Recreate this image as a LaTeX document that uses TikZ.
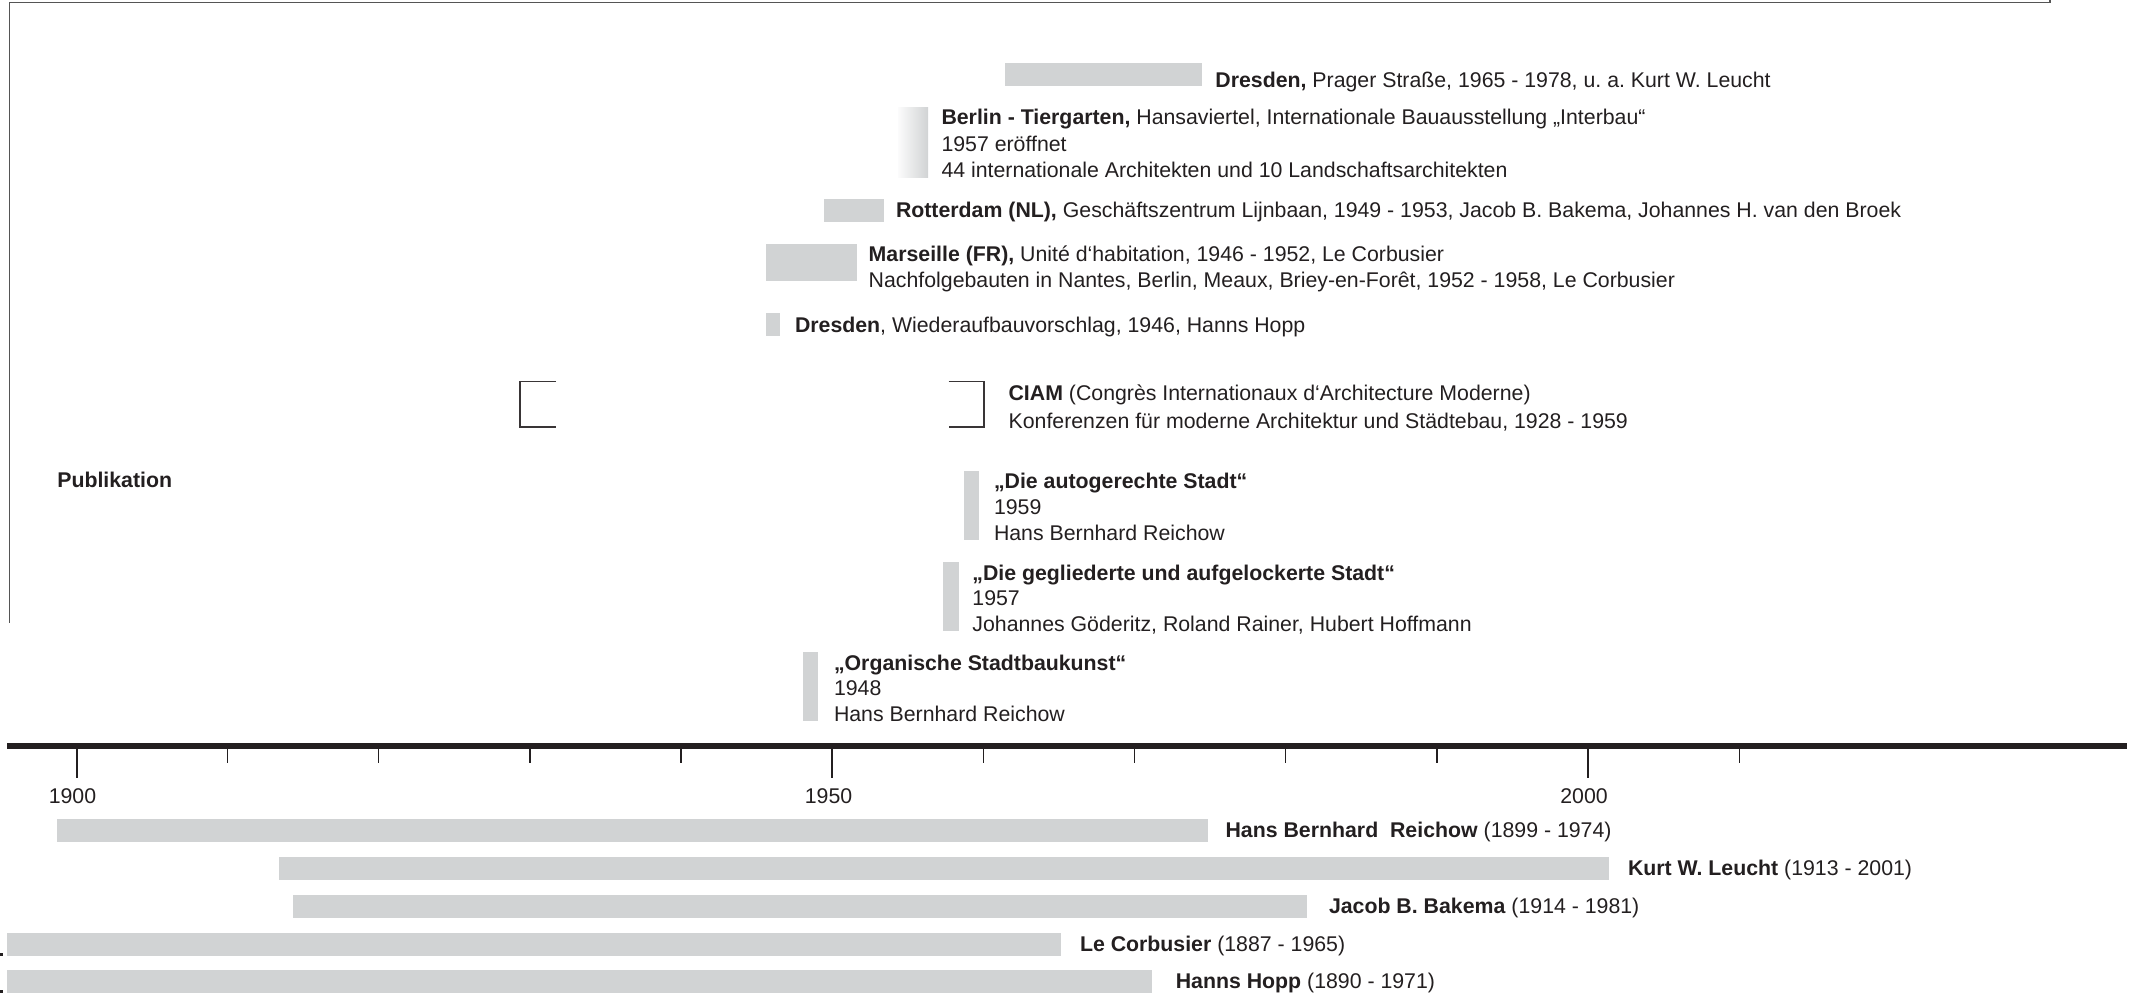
\documentclass[tikz,border=0pt]{standalone}
\usepackage{fontspec}
\setmainfont{Liberation Sans}
\definecolor{barc}{HTML}{D1D3D4}
\definecolor{txt}{HTML}{231F20}
\definecolor{framec}{HTML}{555555}
\frenchspacing
\begin{document}
\begin{tikzpicture}[x=0.5pt,y=-0.5pt,
  lbl/.style={anchor=base west, inner sep=0pt, outer sep=0pt, text=txt, font=\fontsize{10.65}{13}\selectfont},
  yrlbl/.style={anchor=base, inner sep=0pt, outer sep=0pt, text=txt, font=\fontsize{10.65}{13}\selectfont},
  bar/.style={fill=barc, draw=none},
  bracket/.style={draw=txt!90, line width=0.85pt},
  majortick/.style={draw=txt, line width=1pt},
  minortick/.style={draw=txt, line width=0.65pt}]
\useasboundingbox (0,0) rectangle (2140,997);

% frame
\draw[framec, line width=0.7pt] (9.3,622.5) -- (9.3,2.7) -- (2050,2.7) -- (2050,0);

% upper bars
\fill[bar] (1005,62.7) rectangle (1201.7,86);
\shade[left color=white!92!barc, right color=barc] (898,107) rectangle (928,177);
\fill[bar] (823.7,199.3) rectangle (883.7,221.7);
\fill[bar] (766.3,244) rectangle (857,280.7);
\fill[bar] (766.3,313.3) rectangle (780,335.7);
\fill[bar] (964,471) rectangle (979,540);
\fill[bar] (943,562) rectangle (959,630.7);
\fill[bar] (803,652) rectangle (818,720.7);

% CIAM brackets
\draw[bracket] (556,381.5) -- (520,381.5) -- (520,426.7) -- (556,426.7);
\draw[bracket] (948.5,381.5) -- (984,381.5) -- (984,426.7) -- (948.5,426.7);

% upper texts
\node[lbl] (dp) at (1215.4,87) {\textbf{Dresden,} Prager Straße, 1965 - 1978, u. a. Kurt W. Leucht};
\node[lbl] (b1) at (941.5,124.5) {\textbf{Berlin - Tiergarten,} Hansaviertel, Internationale Bauausstellung „Interbau“};
\node[lbl] (b2) at (941.5,151) {1957 eröffnet};
\node[lbl] (b3) at (941.5,177.5) {44 internationale Architekten und 10 Landschaftsarchitekten};
\node[lbl] (ro) at (896,217.5) {\textbf{Rotterdam (NL),} Geschäftszentrum Lijnbaan, 1949 - 1953, Jacob B. Bakema, Johannes H. van den Broek};
\node[lbl] (m1) at (868.7,261.5) {\textbf{Marseille (FR),} Unité d‘habitation, 1946 - 1952, Le Corbusier};
\node[lbl] (m2) at (868.7,287.5) {Nachfolgebauten in Nantes, Berlin, Meaux, Briey-en-Forêt, 1952 - 1958, Le Corbusier};
\node[lbl] (dw) at (795,332.5) {\textbf{Dresden}, Wiederaufbauvorschlag, 1946, Hanns Hopp};
\node[lbl] (c1) at (1008.6,400.8) {\textbf{CIAM} (Congrès Internationaux d‘Architecture Moderne)};
\node[lbl] (c2) at (1008.6,428) {Konferenzen für moderne Architektur und Städtebau, 1928 - 1959};
\node[lbl] (pub) at (57.3,487.5) {\textbf{Publikation}};
\node[lbl] (a1) at (994,488) {\textbf{„Die autogerechte Stadt“}};
\node[lbl] (a2) at (994,514) {1959};
\node[lbl] (a3) at (994,540.5) {Hans Bernhard Reichow};
\node[lbl] (g1) at (972.4,580) {\textbf{„Die gegliederte und aufgelockerte Stadt“}};
\node[lbl] (g2) at (972.4,605.5) {1957};
\node[lbl] (g3) at (972.4,631.5) {Johannes Göderitz, Roland Rainer, Hubert Hoffmann};
\node[lbl] (o1) at (834,670) {\textbf{„Organische Stadtbaukunst“}};
\node[lbl] (o2) at (834,695.5) {1948};
\node[lbl] (o3) at (834,721.5) {Hans Bernhard Reichow};

% axis
\draw[txt, line width=2.85pt] (7.3,746) -- (2126.7,746);
\foreach \k in {0,5,10} {
  \draw[majortick] ({76.5+151.15*\k},746) -- ({76.5+151.15*\k},778);
}
\foreach \k in {1,2,3,4,6,7,8,9,11} {
  \draw[minortick] ({76.5+151.15*\k},746) -- ({76.5+151.15*\k},763.3);
}
\node[yrlbl] (y1900) at (72.5,803) {1900};
\node[yrlbl] (y1950) at (828.5,803) {1950};
\node[yrlbl] (y2000) at (1584,803) {2000};

% life bars
\fill[bar] (57.3,819) rectangle (1207.8,842);
\fill[bar] (279,857) rectangle (1609,880);
\fill[bar] (292.8,895) rectangle (1306.8,918);
\fill[bar] (7,933) rectangle (1061,956);
\fill[bar] (7,970) rectangle (1152,993);
\fill[txt] (0,952.7) rectangle (2.7,955.5);
\fill[txt] (0,990) rectangle (2.7,992.7);

\node[lbl] (lr) at (1225.6,837.5) {\textbf{Hans Bernhard~ Reichow} (1899 - 1974)};
\node[lbl] (ll) at (1628,875.5) {\textbf{Kurt W. Leucht} (1913 - 2001)};
\node[lbl] (lb) at (1329,913.5) {\textbf{Jacob B. Bakema} (1914 - 1981)};
\node[lbl] (lc) at (1080,951.5) {\textbf{Le Corbusier} (1887 - 1965)};
\node[lbl] (lh) at (1175.8,988.5) {\textbf{Hanns Hopp} (1890 - 1971)};
\end{tikzpicture}
\end{document}
